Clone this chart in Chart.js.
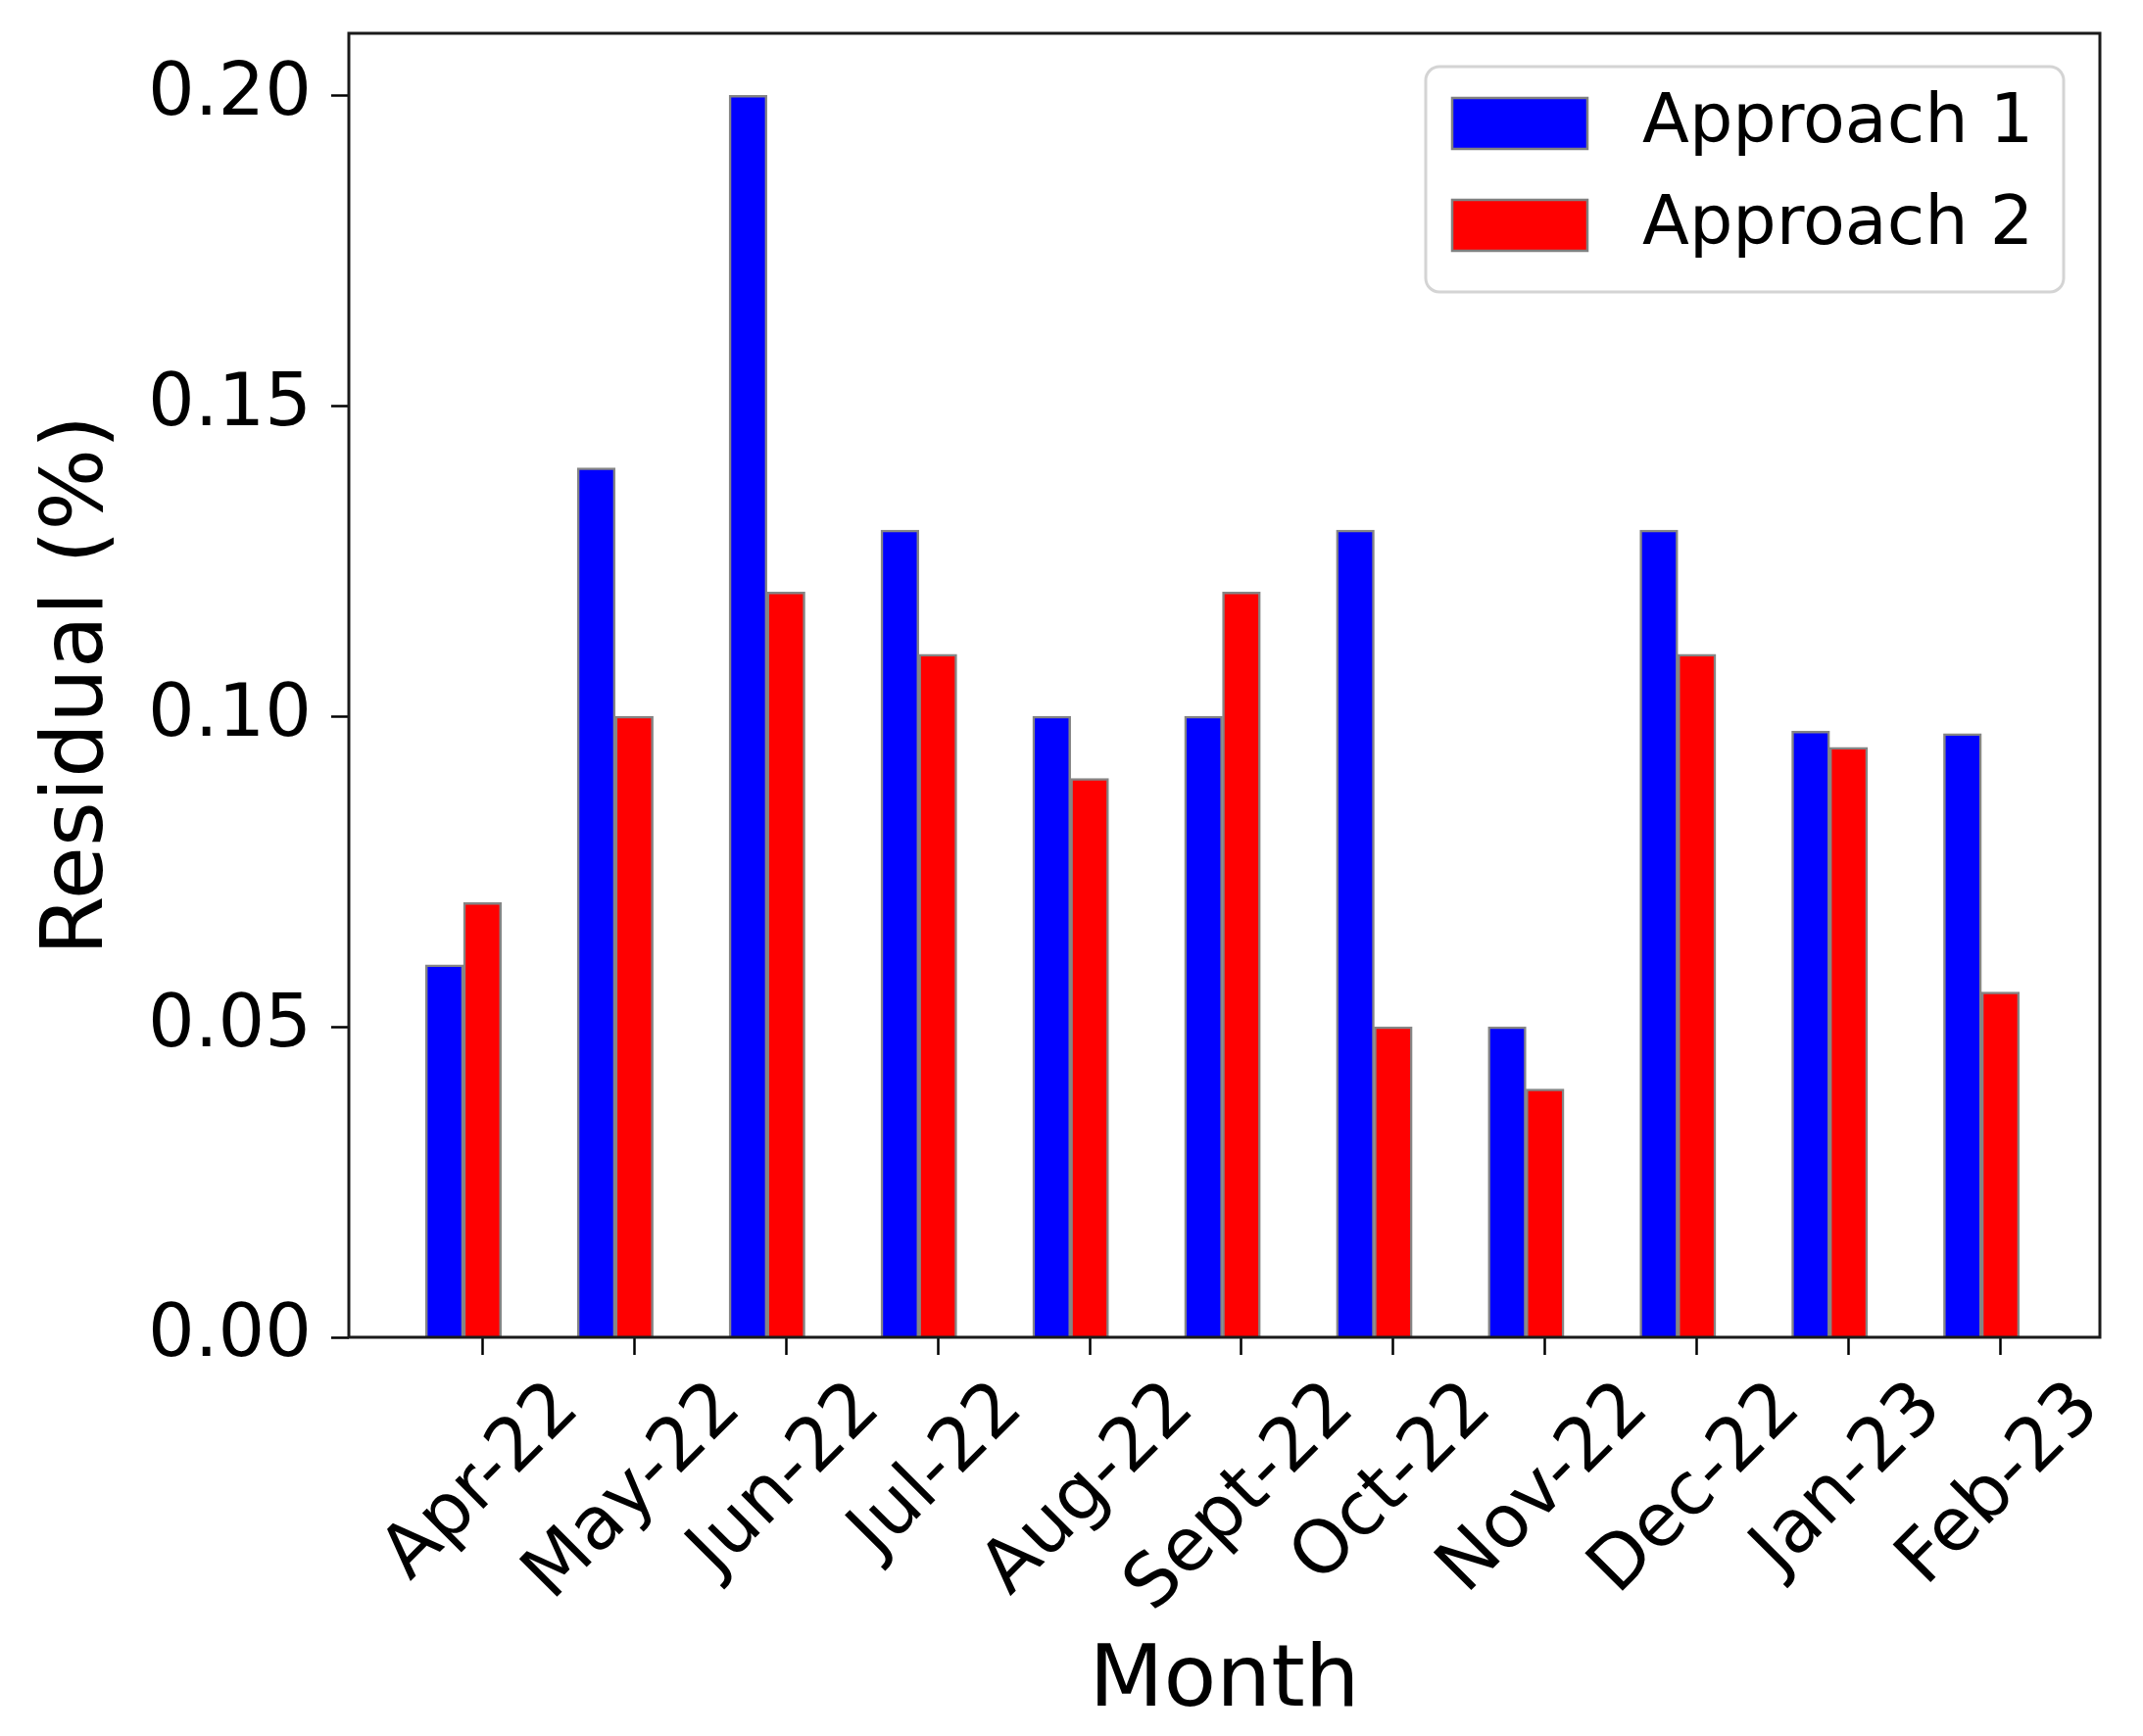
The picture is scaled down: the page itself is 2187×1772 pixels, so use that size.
<!DOCTYPE html>
<html>
<head>
<meta charset="utf-8">
<script src="https://cdn.jsdelivr.net/npm/chart.js@4.4.0/dist/chart.umd.min.js"></script>
<style>
  html, body { margin: 0; padding: 0; background: #ffffff; }
  #wrap { width: 2187px; height: 1772px; }
  canvas { display: block; }
</style>
</head>
<body>
<div id="wrap"><canvas id="c" width="2187" height="1772"></canvas></div>
<script>
const categories = ['Apr-22', 'May-22', 'Jun-22', 'Jul-22', 'Aug-22', 'Sept-22', 'Oct-22', 'Nov-22', 'Dec-22', 'Jan-23', 'Feb-23'];
const approach1 = [0.06, 0.14, 0.20, 0.13, 0.10, 0.10, 0.13, 0.05, 0.13, 0.0976, 0.0972];
const approach2 = [0.07, 0.10, 0.12, 0.11, 0.09, 0.12, 0.05, 0.04, 0.11, 0.095, 0.0556];
const yTickValues = [0, 0.05, 0.10, 0.15, 0.20];
const seriesNames = ['Approach 1', 'Approach 2'];
const seriesColors = ['#0000ff', '#ff0000'];

const FONT = 'DejaVu Sans';
const BAR_W = 0.25;

const blueData = approach1.map((v, i) => ({x: i - BAR_W, y: v}));
const redData = approach2.map((v, i) => ({x: i, y: v}));

const framePlugin = {
  id: 'frame',
  afterDatasetsDraw(chart) {
    const {ctx, chartArea: a} = chart;
    ctx.save();
    ctx.strokeStyle = '#1a1a1a';
    ctx.lineWidth = 3;
    ctx.strokeRect(a.left, a.top, a.right - a.left, a.bottom - a.top);
    ctx.restore();
  }
};

const xLabelPlugin = {
  id: 'xlabels',
  afterDraw(chart) {
    const {ctx, chartArea: a} = chart;
    const xs = chart.scales.x;
    const fs = 75;
    ctx.save();
    ctx.font = fs + 'px "' + FONT + '"';
    ctx.fillStyle = '#000';
    ctx.textAlign = 'center';
    ctx.textBaseline = 'middle';
    categories.forEach((lab, i) => {
      const px = xs.getPixelForValue(i);
      const w = ctx.measureText(lab).width;
      const h = fs * 1.164;
      const cy = a.bottom + 30 + (w + h) / (2 * Math.SQRT2);
      ctx.save();
      ctx.translate(px, cy);
      ctx.rotate(-Math.PI / 4);
      ctx.fillText(lab, 0, 0);
      ctx.restore();
    });
    ctx.restore();
  }
};

const legendPlugin = {
  id: 'customLegend',
  afterDraw(chart) {
    const {ctx, chartArea: a} = chart;
    const right = a.right - 37;
    const top = a.top + 34;
    const width = 651;
    const height = 230;
    const left = right - width;
    ctx.save();
    ctx.fillStyle = 'rgba(255,255,255,0.9)';
    ctx.strokeStyle = '#d4d4d4';
    ctx.lineWidth = 3;
    ctx.beginPath();
    ctx.roundRect(left, top, width, height, 14);
    ctx.fill();
    ctx.stroke();
    ctx.font = '70px "' + FONT + '"';
    ctx.textAlign = 'left';
    ctx.textBaseline = 'middle';
    seriesNames.forEach((name, k) => {
      const py = top + 32 + k * 104;
      ctx.fillStyle = seriesColors[k];
      ctx.fillRect(left + 27, py, 138, 52);
      ctx.strokeStyle = '#808080';
      ctx.lineWidth = 2.5;
      ctx.strokeRect(left + 27, py, 138, 52);
      ctx.fillStyle = '#000';
      ctx.fillText(name, left + 221, py + 27);
    });
    ctx.restore();
  }
};

new Chart(document.getElementById('c'), {
  type: 'bar',
  data: {
    datasets: [
      {label: seriesNames[0], data: blueData, backgroundColor: seriesColors[0], borderColor: '#858585', borderWidth: 2.5, borderSkipped: 'start'},
      {label: seriesNames[1], data: redData, backgroundColor: seriesColors[1], borderColor: '#858585', borderWidth: 2.5, borderSkipped: 'start'}
    ]
  },
  options: {
    responsive: false,
    devicePixelRatio: 1,
    animation: false,
    grouped: false,
    barPercentage: 1,
    categoryPercentage: 1,
    layout: {padding: {top: 34, right: 44, bottom: 0, left: 0}},
    plugins: {
      legend: {display: false},
      tooltip: {enabled: false}
    },
    scales: {
      x: {
        type: 'linear',
        offset: false,
        min: -0.88,
        max: 10.655,
        afterBuildTicks(scale) { scale.ticks = categories.map((_, i) => ({value: i})); },
        afterFit(scale) {
          scale.height = 1772 - 1365;
          scale.paddingLeft = 0; scale.paddingRight = 0;
          scale.paddingTop = 0; scale.paddingBottom = 0;
        },
        grid: {offset: false, drawOnChartArea: false, drawTicks: true, tickLength: 18, tickWidth: 2.5, tickColor: '#000'},
        border: {display: false},
        ticks: {display: false},
        title: {
          display: true,
          text: 'Month',
          color: '#000',
          font: {family: FONT, size: 88, lineHeight: 1},
          padding: {top: 0, bottom: 10}
        }
      },
      y: {
        type: 'linear',
        min: 0,
        max: 0.21,
        afterBuildTicks(scale) { scale.ticks = yTickValues.map(v => ({value: v})); },
        afterFit(scale) {
          scale.width = 356;
          scale.paddingTop = 0; scale.paddingBottom = 0;
          scale.paddingLeft = 0; scale.paddingRight = 0;
        },
        grid: {drawOnChartArea: false, drawTicks: true, tickLength: 18, tickWidth: 2.5, tickColor: '#000'},
        border: {display: false},
        ticks: {
          color: '#000',
          font: {family: FONT, size: 75},
          padding: 20,
          callback: (v) => Number(v).toFixed(2)
        },
        title: {
          display: true,
          text: 'Residual (%)',
          color: '#000',
          font: {family: FONT, size: 88, lineHeight: 1},
          padding: {top: 37, bottom: 0}
        }
      }
    }
  },
  plugins: [framePlugin, xLabelPlugin, legendPlugin]
});
</script>
</body>
</html>
